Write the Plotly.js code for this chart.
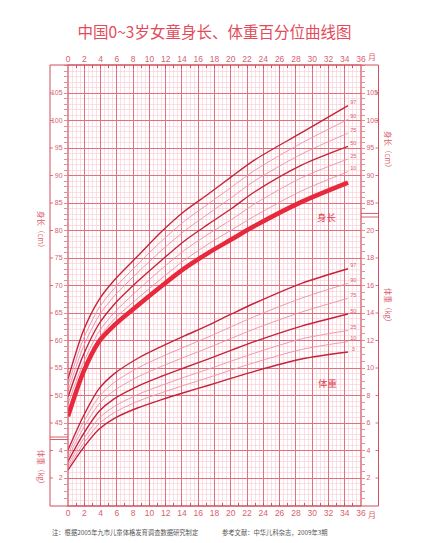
<!DOCTYPE html>
<html>
<head>
<meta charset="utf-8">
<script src="https://cdn.plot.ly/plotly-3.0.1.min.js"></script>
<style>
  html, body { margin: 0; padding: 0; background: #ffffff; }
  #chart { width: 429px; height: 543px; }
</style>
</head>
<body>
<div id="chart"></div>
<script>
// ---- Data -------------------------------------------------------------
// Ages (months, as placed on the month axis) where each curve is sampled
const AGES = [0, 1.9, 3.8, 5.7, 8.6, 11.5, 14.3, 17.2, 20.1, 22.9, 28.7, 34.4];

// Length (cm) percentiles
const LEN_P97 = [53.0, 61.8, 67.4, 71.0, 75.4, 79.8, 83.5, 86.6, 89.8, 92.8, 97.8, 102.7];
const LEN_P90 = [51.9, 60.3, 65.9, 69.5, 73.9, 78.1, 81.7, 84.8, 87.9, 90.9, 95.9, 100.2];
const LEN_P75 = [50.8, 58.9, 64.5, 68.1, 72.4, 76.4, 79.9, 83.0, 86.0, 89.0, 93.9, 97.7];
const LEN_P50 = [49.7, 57.4, 63.0, 66.6, 70.8, 74.6, 78.1, 81.1, 84.0, 87.0, 91.9, 95.3];
const LEN_P25 = [48.5, 56.0, 61.6, 65.1, 69.2, 73.0, 76.4, 79.3, 82.0, 84.8, 89.6, 93.0];
const LEN_P10 = [47.3, 54.9, 60.4, 63.9, 67.7, 71.3, 74.6, 77.5, 80.1, 82.6, 87.2, 90.7];
const LEN_P3  = [46.2, 54.3, 59.8, 62.8, 66.4, 69.9, 73.1, 75.9, 78.4, 80.8, 85.2, 88.7];

// Weight (kg) percentiles
const WT_P97 = [4.04, 6.51, 8.48, 9.59, 10.71, 11.57, 12.33, 13.10, 13.93, 14.71, 16.16, 17.22];
const WT_P90 = [3.75, 6.06, 7.90, 8.96, 10.01, 10.82, 11.53, 12.25, 13.01, 13.74, 15.08, 16.16];
const WT_P75 = [3.49, 5.64, 7.37, 8.37, 9.36, 10.12, 10.79, 11.46, 12.17, 12.84, 14.07, 15.07];
const WT_P50 = [3.21, 5.21, 6.83, 7.77, 8.69, 9.40, 10.02, 10.65, 11.30, 11.92, 13.05, 13.93];
const WT_P25 = [2.96, 4.82, 6.34, 7.21, 8.08, 8.74, 9.33, 9.91, 10.51, 11.08, 12.12, 12.73];
const WT_P10 = [2.76, 4.50, 5.93, 6.76, 7.58, 8.20, 8.75, 9.29, 9.86, 10.39, 11.35, 11.92];
const WT_P3  = [2.57, 4.21, 5.55, 6.34, 7.11, 7.70, 8.22, 8.73, 9.26, 9.76, 10.65, 11.16];

// Tick labels
const MONTH_LABELS = [0, 2, 4, 6, 8, 10, 12, 14, 16, 18, 20, 22, 24, 26, 28, 30, 32, 34, 36];
const LEN_LABELS_LEFT = [45, 50, 55, 60, 65, 70, 75, 80, 85, 90, 95, 100, 105];
const LEN_LABELS_RIGHT = [85, 90, 95, 100, 105];
const WT_LABELS_LEFT = [2, 4];
const WT_LABELS_RIGHT = [2, 4, 6, 8, 10, 12, 14, 16, 18, 20];

// ---- Styling ----------------------------------------------------------
const C_DARK = '#c5233b';
const C_PINK = '#eb90a6';
const C_BOLD = '#e8283c';
const GRID_MAJOR = '#e2707e';
const GRID_MINOR = '#f7ccd3';
const FRAME = '#d24d5e';
const TXT = '#d9606e';
const SANS = 'Liberation Sans, Arial, sans-serif';
const CJK = 'Noto Sans CJK SC, sans-serif';

// Plot area in pixels; the frame strips sit outside it
const PL = 68, PR = 361, PT = 65, PB = 506;
const pxX = px => (px - PL) / (PR - PL);   // pixel -> paper x
const pxY = py => (PB - py) / (PB - PT);   // pixel -> paper y

// Length and weight share the grid: 5 cm per major row = 2 kg per major row
const LEN_RANGE = [29.91, 110.09];
const WT_RANGE = [(LEN_RANGE[0] - 30) * 0.4, (LEN_RANGE[1] - 30) * 0.4];

function tickSet(lo, hi, step, labelled) {
  const vals = [], text = [];
  for (let v = lo; v <= hi + 1e-9; v += step) {
    const r = Math.round(v * 10) / 10;
    vals.push(r);
    text.push(labelled.indexOf(r) >= 0 ? String(r) : '');
  }
  return { tickmode: 'array', tickvals: vals, ticktext: text };
}

// ---- Traces -----------------------------------------------------------
const traces = [];
function curve(y, axis, color, width) {
  traces.push({
    type: 'scatter', mode: 'lines', x: AGES, y: y, yaxis: axis,
    line: { color: color, width: width, shape: 'spline', smoothing: 0.8 },
    hoverinfo: 'skip', showlegend: false
  });
}
const lenSeries = [LEN_P97, LEN_P90, LEN_P75, LEN_P50, LEN_P25, LEN_P10, LEN_P3];
const wtSeries  = [WT_P97, WT_P90, WT_P75, WT_P50, WT_P25, WT_P10, WT_P3];
const PCT = ['97', '90', '75', '50', '25', '10', '3'];
const styleOf = i => (i === 0 || i === 3 || i === 6) ? [C_DARK, 1.4] : [C_PINK, 0.9];

wtSeries.forEach((s, i) => { const st = styleOf(i); curve(s, 'y4', st[0], st[1]); });
lenSeries.forEach((s, i) => {
  if (i === 6) curve(s, 'y', C_BOLD, 4.5);
  else { const st = styleOf(i); curve(s, 'y', st[0], st[1]); }
});

// Percentile names at the end of each curve
const LABEL_X = 35.05;
const endOf = s => s[s.length - 1];
traces.push({
  type: 'scatter', mode: 'text', yaxis: 'y',
  x: lenSeries.slice(0, 6).map(() => LABEL_X),
  y: lenSeries.slice(0, 6).map(endOf),
  text: PCT.slice(0, 6),
  textfont: { family: SANS, size: 5.5, color: TXT },
  textposition: 'top center', hoverinfo: 'skip', showlegend: false, cliponaxis: false
});
traces.push({
  type: 'scatter', mode: 'text', yaxis: 'y4',
  x: wtSeries.map(() => LABEL_X),
  y: wtSeries.map(endOf),
  text: PCT,
  textfont: { family: SANS, size: 5.5, color: TXT },
  textposition: 'top center', hoverinfo: 'skip', showlegend: false, cliponaxis: false
});

// Carrier traces so the label-only and grid-only axes are drawn
[['x2', 'y'], ['x3', 'y3'], ['x', 'y2'], ['x', 'y5']].forEach(p => {
  traces.push({ type: 'scatter', x: [], y: [], xaxis: p[0], yaxis: p[1], hoverinfo: 'skip', showlegend: false });
});

// ---- Axes -------------------------------------------------------------
const monthTicks = tickSet(0, 36, 1, MONTH_LABELS);
const tickFontM = { family: SANS, size: 8.5, color: TXT };
const tickFontY = { family: SANS, size: 7, color: TXT };
const baseX = {
  range: [0, 36], showgrid: false, zeroline: false, showline: false,
  ticks: 'inside', ticklen: 3, tickwidth: 1, tickcolor: FRAME,
  tickfont: tickFontM, fixedrange: true
};
const baseY = {
  showgrid: false, zeroline: false, showline: false,
  ticks: 'outside', ticklen: 3, tickwidth: 0.8, tickcolor: GRID_MAJOR,
  tickfont: tickFontY, fixedrange: true
};

const layout = {
  width: 429, height: 543,
  margin: { l: PL, r: 429 - PR, t: PT, b: 543 - PB, pad: 0 },
  paper_bgcolor: '#ffffff', plot_bgcolor: '#ffffff',
  showlegend: false,
  title: {
    text: '中国0~3岁女童身长、体重百分位曲线图',
    font: { family: CJK, size: 15.5, color: '#e34b5b' },
    x: 0.5, xref: 'paper', xanchor: 'center',
    y: 1 - 33 / 543, yref: 'container', yanchor: 'middle'
  },
  xaxis: Object.assign({}, baseX, monthTicks, { side: 'bottom', anchor: 'y' }),
  xaxis2: Object.assign({}, baseX, monthTicks, { side: 'top', overlaying: 'x', anchor: 'y' }),
  xaxis3: {
    range: [0, 36], overlaying: 'x', anchor: 'y3', showticklabels: false, ticks: '',
    showgrid: true, tick0: 0, dtick: 2, gridcolor: GRID_MAJOR, gridwidth: 1,
    minor: { tick0: 0, dtick: 0.5, showgrid: true, gridcolor: GRID_MINOR, gridwidth: 0.6, ticks: '' },
    zeroline: false, showline: false, fixedrange: true
  },
  yaxis: Object.assign({}, baseY, tickSet(43, 110, 1, LEN_LABELS_LEFT), { range: LEN_RANGE, side: 'left', anchor: 'x' }),
  yaxis2: Object.assign({}, baseY, tickSet(84, 110, 1, LEN_LABELS_RIGHT), { range: LEN_RANGE, side: 'right', overlaying: 'y', anchor: 'x' }),
  yaxis3: {
    range: LEN_RANGE, overlaying: 'y', anchor: 'x3', showticklabels: false, ticks: '',
    showgrid: true, tick0: 0, dtick: 5, gridcolor: GRID_MAJOR, gridwidth: 1,
    minor: { tick0: 0, dtick: 1, showgrid: true, gridcolor: GRID_MINOR, gridwidth: 0.6, ticks: '' },
    zeroline: false, showline: false, fixedrange: true
  },
  yaxis4: Object.assign({}, baseY, tickSet(0.5, 20.5, 0.5, WT_LABELS_RIGHT), { range: WT_RANGE, side: 'right', overlaying: 'y', anchor: 'x' }),
  yaxis5: Object.assign({}, baseY, tickSet(0.5, 4.5, 0.5, WT_LABELS_LEFT), { range: WT_RANGE, side: 'left', overlaying: 'y', anchor: 'x' }),
  shapes: [],
  annotations: []
};

// ---- Frame, strip breaks and frame-side dashes -----------------------
const shapes = layout.shapes;
shapes.push({ type: 'rect', xref: 'paper', yref: 'paper', x0: pxX(50), x1: pxX(378.5), y0: 0, y1: 1,
  line: { color: FRAME, width: 1 }, fillcolor: 'rgba(0,0,0,0)', layer: 'above' });
shapes.push({ type: 'rect', xref: 'paper', yref: 'paper', x0: 0, x1: 1, y0: 0, y1: 1,
  line: { color: FRAME, width: 1.2 }, fillcolor: 'rgba(0,0,0,0)', layer: 'above' });
// length / weight separators inside the side strips
[[42.45, pxX(50), 0], [42.0, pxX(50), 0], [83.1, 1, pxX(378.5)], [82.45, 1, pxX(378.5)]].forEach(b => {
  shapes.push({ type: 'line', xref: 'paper', yref: 'y', x0: b[1], x1: b[2] || 0, y0: b[0], y1: b[0],
    line: { color: FRAME, width: 0.9 } });
});
function dash(axis, v, side) {
  const x0 = side === 'left' ? pxX(50) : pxX(375.5);
  const x1 = side === 'left' ? pxX(53) : pxX(378.5);
  shapes.push({ type: 'line', xref: 'paper', yref: axis, x0: x0, x1: x1, y0: v, y1: v,
    line: { color: FRAME, width: 0.8 } });
}
LEN_LABELS_LEFT.forEach(v => dash('y', v, 'left'));
WT_LABELS_LEFT.forEach(v => dash('y4', v, 'left'));
LEN_LABELS_RIGHT.forEach(v => dash('y', v, 'right'));
WT_LABELS_RIGHT.forEach(v => dash('y4', v, 'right'));

// ---- Text -------------------------------------------------------------
const ann = layout.annotations;
const sideTitle = (text, px, py) => ann.push({
  text: text, xref: 'paper', yref: 'paper', x: pxX(px), y: pxY(py), textangle: 90,
  showarrow: false, font: { family: CJK, size: 7.5, color: TXT }, xanchor: 'center', yanchor: 'middle'
});
sideTitle('身长（cm）', 42, 231);
sideTitle('体重（kg）', 42, 469);
sideTitle('身长（cm）', 389, 151);
sideTitle('体重（kg）', 389, 307);

[57, 514].forEach(py => ann.push({
  text: '月', xref: 'paper', yref: 'paper', x: pxX(371.5), y: pxY(py), showarrow: false,
  font: { family: CJK, size: 8, color: TXT }, xanchor: 'center', yanchor: 'middle'
}));

ann.push({ text: '身长', xref: 'x', yref: 'y', x: 31.8, y: 82.45, showarrow: false,
  font: { family: CJK, size: 9.5, color: '#e0404f' } });
ann.push({ text: '体重', xref: 'x', yref: 'y4', x: 32.0, y: 8.89, showarrow: false,
  font: { family: CJK, size: 9.5, color: '#e0404f' } });

const noteFont = { family: 'Noto Sans CJK SC, serif', size: 6.3, color: '#555555' };
ann.push({ text: '注：根据2005年九市儿童体格发育调查数据研究制定', xref: 'paper', yref: 'paper',
  x: pxX(50), y: pxY(532), xanchor: 'left', yanchor: 'middle', showarrow: false, font: noteFont });
ann.push({ text: '参考文献：中华儿科杂志，2009年3期', xref: 'paper', yref: 'paper',
  x: pxX(220), y: pxY(532), xanchor: 'left', yanchor: 'middle', showarrow: false, font: noteFont });

Plotly.newPlot('chart', traces, layout, { staticPlot: true, displayModeBar: false });
</script>
</body>
</html>
